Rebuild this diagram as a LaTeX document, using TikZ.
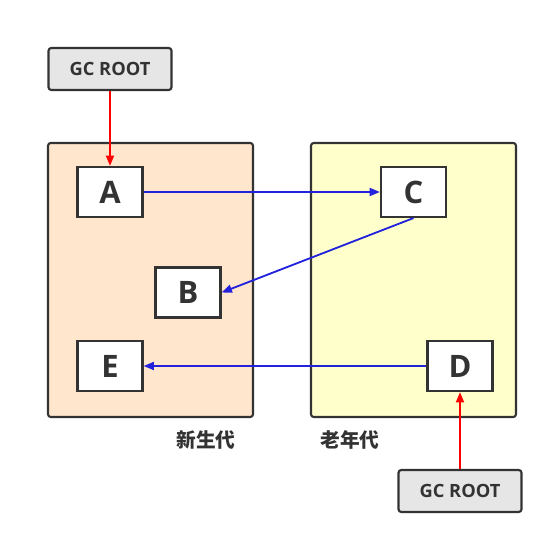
\documentclass[tikz,border=0pt]{standalone}
\usepackage{fontspec}
\setmainfont{Open Sans}
\newfontfamily\cjkfont{Noto Sans CJK SC}
\usepackage{xcolor}
\usetikzlibrary{arrows.meta,positioning}

\definecolor{youngfill}{HTML}{FFE6CC}
\definecolor{oldfill}{HTML}{FFFFCC}
\definecolor{rootfill}{HTML}{E6E6E6}
\definecolor{edgecol}{HTML}{333333}
\definecolor{refblue}{HTML}{2222DD}
\definecolor{rootred}{HTML}{FF0000}

\begin{document}
\begin{tikzpicture}[
  x=0.025cm, y=-0.025cm,
  region/.style={rectangle, draw=edgecol, line width=1.5pt, rounded corners=2pt, minimum width=5.125cm, minimum height=6.85cm},
  root/.style={rectangle, draw=edgecol, fill=rootfill, line width=1.5pt, rounded corners=2pt, minimum width=3.075cm, minimum height=1.05cm, text=edgecol, font=\fontsize{13}{15}\selectfont\bfseries},
  obj/.style={rectangle, draw=edgecol, fill=white, line width=1.5pt, minimum width=1.625cm, minimum height=1.25cm, text=edgecol, font=\fontsize{22}{24}\selectfont\bfseries},
  gen/.style={text=edgecol, font=\cjkfont\fontsize{14}{16}\selectfont\bfseries},
  strong/.style={-{Triangle[length=2.6mm,width=2mm]}, line width=1.5pt, draw=rootred},
  ref/.style={-{Triangle[length=2.6mm,width=2mm]}, line width=1.3pt, draw=refblue}
]
  \useasboundingbox (0,0) rectangle (553,544);

  % generations
  \node[region, fill=youngfill] (young) at (150.5,280) {};
  \node[region, fill=oldfill] (old) at (413.5,280) {};
  \node[gen] (younglbl) at (206,440) {新生代};
  \node[gen] (oldlbl) at (350,440) {老年代};

  % roots
  \node[root] (root1) at (110,69) {GC ROOT};
  \node[root] (root2) at (460,491) {GC ROOT};

  % objects
  \node[obj] (A) at (110,192) {A};
  \node[obj] (C) at (413.5,192) {C};
  \node[obj] (B) at (188,292.5) {B};
  \node[obj] (E) at (110,366) {E};
  \node[obj] (D) at (460,366) {D};

  % references
  \draw[strong] (root1) -- (A);
  \draw[strong] (root2) -- (D);
  \draw[ref] (A) -- (C);
  \draw[ref] (C.south) -- (B.east);
  \draw[ref] (D) -- (E);
\end{tikzpicture}
\end{document}
